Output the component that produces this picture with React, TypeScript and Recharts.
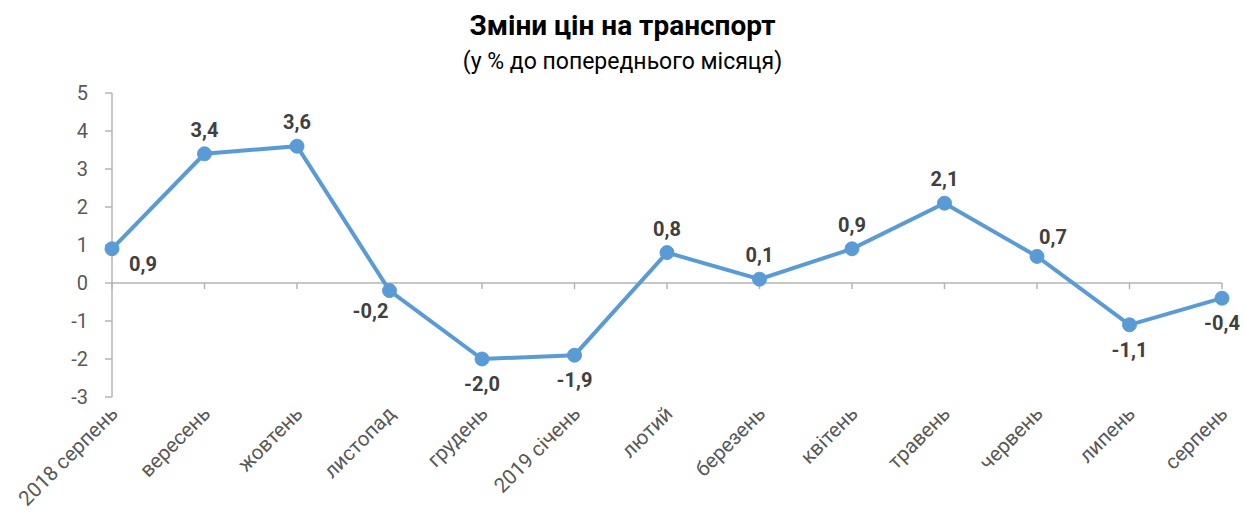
import {
  LineChart,
  Line,
  XAxis,
  YAxis,
  ReferenceLine,
  LabelList,
} from 'recharts';

const months = [
  '2018 серпень',
  'вересень',
  'жовтень',
  'листопад',
  'грудень',
  '2019 січень',
  'лютий',
  'березень',
  'квітень',
  'травень',
  'червень',
  'липень',
  'серпень',
];

const changes = [0.9, 3.4, 3.6, -0.2, -2.0, -1.9, 0.8, 0.1, 0.9, 2.1, 0.7, -1.1, -0.4];

const yTicks = [-3, -2, -1, 0, 1, 2, 3, 4, 5];

// where each data label sits relative to its point
const labelSide = ['br', 't', 't', 'bl', 'b', 'b', 't', 't', 't', 't', 'tr', 'b', 'b'];

const sideOffset: Record<string, [number, number]> = {
  t: [0, -24],
  b: [0, 25],
  br: [31, 15],
  bl: [-19, 20],
  tr: [16, -19],
};

const data = months.map((name, i) => ({ name, value: changes[i] }));

const FONT = 'Roboto, "Noto Sans", sans-serif';
const AXIS_COLOR = '#b4b4b4';
const LINE_COLOR = '#5b9bd5';

const fmt = (v: number) => v.toFixed(1).replace('.', ',');

const PointLabel = (props: any) => {
  const { x, y, value, index } = props;
  const [dx, dy] = sideOffset[labelSide[index]] || [0, -24];
  return (
    <text
      x={x + dx}
      y={y + dy}
      textAnchor="middle"
      dominantBaseline="central"
      fontFamily={FONT}
      fontSize={20}
      fontWeight={700}
      fill="#404040"
    >
      {fmt(value)}
    </text>
  );
};

const MonthTick = (props: any) => {
  const { x, y, payload } = props;
  const ax = x + 7;
  const ay = y + 10;
  return (
    <text
      x={ax}
      y={ay}
      transform={`rotate(-45, ${ax}, ${ay})`}
      textAnchor="end"
      fontFamily={FONT}
      fontSize={20.5}
      fill="#595959"
    >
      {payload.value}
    </text>
  );
};

const ValueTick = (props: any) => {
  const { x, y, payload } = props;
  return (
    <text
      x={x - 15}
      y={y}
      textAnchor="end"
      dominantBaseline="central"
      fontFamily={FONT}
      fontSize={20}
      fill="#595959"
    >
      {payload.value}
    </text>
  );
};

export default function App() {
  return (
    <div
      style={{
        position: 'absolute',
        left: 0,
        top: 0,
        width: 1245,
        height: 514,
        background: '#fff',
        fontFamily: FONT,
      }}
    >
      <div
        style={{
          position: 'absolute',
          top: 9,
          width: 1245,
          textAlign: 'center',
          fontSize: 28,
          fontWeight: 700,
          color: '#000',
        }}
      >
        Зміни цін на транспорт
      </div>
      <div
        style={{
          position: 'absolute',
          top: 48,
          width: 1245,
          textAlign: 'center',
          fontSize: 23,
          color: '#000',
        }}
      >
        (у % до попереднього місяця)
      </div>
      <LineChart
        width={1245}
        height={514}
        data={data}
        margin={{ top: 93, right: 23, left: 72, bottom: 0 }}
        style={{ position: 'absolute', left: 0, top: 0 }}
      >
        <XAxis
          dataKey="name"
          height={117}
          axisLine={false}
          tickLine={false}
          interval={0}
          tick={<MonthTick />}
        />
        <YAxis
          width={40}
          domain={[-3, 5]}
          ticks={yTicks}
          interval={0}
          allowDataOverflow
          axisLine={{ stroke: AXIS_COLOR, strokeWidth: 1.5 }}
          tickLine={{ stroke: AXIS_COLOR, strokeWidth: 1.5 }}
          tickSize={7}
          tick={<ValueTick />}
        />
        <ReferenceLine y={0} stroke={AXIS_COLOR} strokeWidth={1.5} />
        {months.map((m) => (
          <ReferenceLine
            key={m}
            segment={[
              { x: m, y: 0 },
              { x: m, y: -0.16 },
            ]}
            stroke={AXIS_COLOR}
            strokeWidth={1.5}
          />
        ))}
        <Line
          type="linear"
          dataKey="value"
          stroke={LINE_COLOR}
          strokeWidth={4}
          dot={{ r: 7, fill: LINE_COLOR, stroke: LINE_COLOR, strokeWidth: 1 }}
          isAnimationActive={false}
        >
          <LabelList dataKey="value" content={<PointLabel />} />
        </Line>
      </LineChart>
    </div>
  );
}
